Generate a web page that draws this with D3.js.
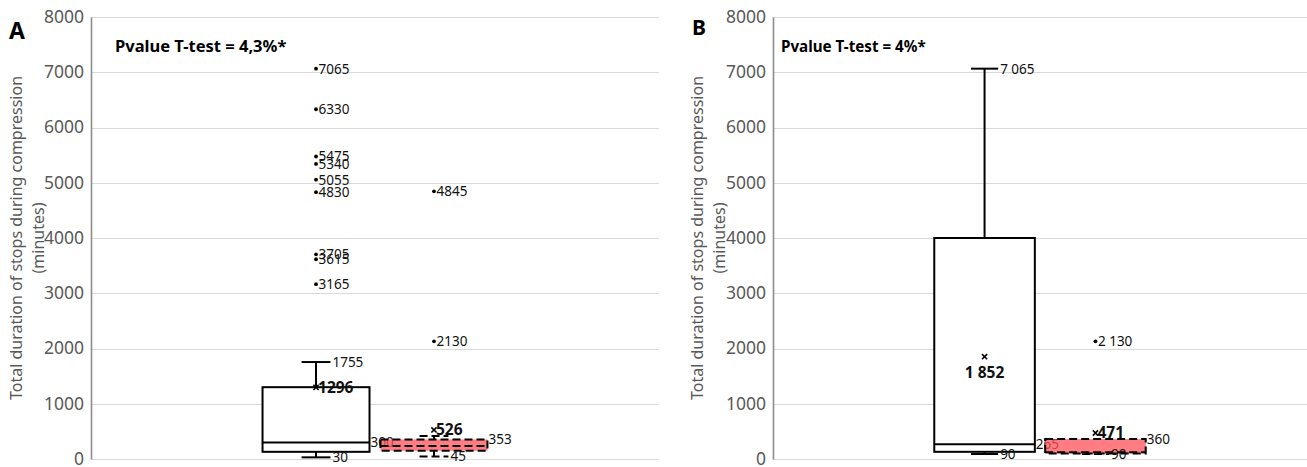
<!DOCTYPE html>
<html>
<head>
<meta charset="utf-8">
<script src="https://cdn.jsdelivr.net/npm/d3@7"></script>
<style>
  body { margin: 0; background: #fff; }
  svg { display: block; }
</style>
</head>
<body>
<svg id="chart" width="1307" height="467"></svg>
<script>
// ---- data ----
const yTicks = [0, 1000, 2000, 3000, 4000, 5000, 6000, 7000, 8000];
const groups = ["Group 1", "Group 2"];
const axisTitle = ["Total duration of stops during compression", "(minutes)"];

// Panel A: five-number summary plus mean, per group
const statsA = [
  { min: 30, q1: 130, median: 300, q3: 1300, max: 1755, mean: 1296 },
  { min: 45, q1: 150, median: 235, q3: 353, max: 416, mean: 526 }
];
const outliersA = [
  [7065, 6330, 5475, 5340, 5055, 4830, 3705, 3615, 3165],
  [4845, 2130]
];
const labelKeysA = [["max", "mean", "median", "min"], ["mean", "q3", "min"]];
const pvalueA = "Pvalue T-test = 4,3%*";

// Panel B
const statsB = [
  { min: 90, q1: 130, median: 265, q3: 4000, max: 7065, mean: 1852 },
  { min: 90, q1: 100, median: 120, q3: 360, max: 360, mean: 471 }
];
const outliersB = [[], [2130]];
const labelKeysB = [["max", "mean", "median", "min"], ["mean", "q3", "min"]];
const pvalueB = "Pvalue T-test = 4%*";

// ---- drawing ----
const svg = d3.select("#chart");
const FONT = "'Noto Sans', 'Open Sans', sans-serif";
const spaceFmt = d3.formatLocale({ decimal: ",", thousands: " ", grouping: [3], currency: ["", ""] }).format(",d");
const plainFmt = d3.format("d");

function drawPanel(p) {
  const g = svg.append("g");
  const y = d3.scaleLinear().domain([0, 8000]).range([459, 17]);
  const W = p.right - p.left;
  const x = d3.scaleBand().domain(groups)
    .range([p.left + 0.302 * W, p.right - 0.302 * W])
    .paddingInner(0.093);
  const bw = x.bandwidth();
  const capW = bw * 0.27;
  const fmt = p.fmt;
  const py = v => Math.round(y(v)) + 0.5;

  // gridlines
  g.append("g").selectAll("line").data(yTicks).join("line")
    .attr("x1", p.left).attr("x2", p.right)
    .attr("y1", d => py(d)).attr("y2", d => py(d))
    .attr("stroke", "#d9d9d9").attr("stroke-width", 1);

  // y axis
  const ag = g.append("g").attr("transform", `translate(${p.left},0)`)
    .call(d3.axisLeft(y).tickValues(yTicks).tickSize(0).tickPadding(7).tickFormat(plainFmt));
  ag.select(".domain").attr("stroke", "#8c8c8c").attr("stroke-width", 1.6);
  ag.selectAll("text").attr("fill", "#595959").attr("dy", "0.3em")
    .style("font-size", "17.5px").style("font-family", FONT);

  // axis title (two lines, rotated)
  const tg = g.append("g").attr("transform", `translate(${p.titleX},238) rotate(-90)`);
  tg.selectAll("text").data(axisTitle).join("text")
    .attr("x", 0).attr("y", (d, i) => i * 22)
    .attr("text-anchor", "middle").attr("dy", "0.35em")
    .attr("fill", "#595959").style("font-size", "16px").style("font-family", FONT)
    .text(d => d);

  // panel letter and p-value note
  g.append("text").attr("x", p.letterX).attr("y", p.letterY)
    .style("font-family", FONT).style("font-weight", "bold").style("font-size", p.letterSize)
    .attr("fill", "#000").text(p.letter);
  g.append("text").attr("x", p.pvalueX).attr("y", 52)
    .style("font-family", FONT).style("font-weight", "bold").style("font-size", p.pvalueSize)
    .attr("fill", "#000").text(p.pvalue);

  p.stats.forEach((s, i) => {
    const bx = x(groups[i]);
    const cx = bx + bw / 2;
    const dashed = i === 1;
    const bg = g.append("g");
    const stroke = (sel) => sel.attr("stroke", "#000").attr("stroke-width", 2)
      .attr("stroke-dasharray", dashed ? "8,4" : null).attr("fill", "none");

    // whiskers
    if (s.max > s.q3) {
      bg.append("line").attr("x1", cx).attr("x2", cx).attr("y1", y(s.q3)).attr("y2", y(s.max)).call(stroke);
      bg.append("line").attr("x1", cx - capW / 2).attr("x2", cx + capW / 2)
        .attr("y1", y(s.max)).attr("y2", y(s.max)).call(stroke);
    }
    bg.append("line").attr("x1", cx).attr("x2", cx).attr("y1", y(s.q1)).attr("y2", y(s.min)).call(stroke);
    bg.append("line").attr("x1", cx - capW / 2).attr("x2", cx + capW / 2)
      .attr("y1", y(s.min)).attr("y2", y(s.min)).call(stroke);

    // box
    bg.append("rect").attr("x", bx).attr("width", bw)
      .attr("y", y(s.q3)).attr("height", y(s.q1) - y(s.q3))
      .attr("fill", dashed ? "rgb(255,82,88)" : "#fff").attr("fill-opacity", dashed ? 0.75 : 1)
      .attr("stroke", "#000").attr("stroke-width", 2)
      .attr("stroke-dasharray", dashed ? "8,4" : null);
    bg.append("line").attr("x1", bx).attr("x2", bx + bw)
      .attr("y1", y(s.median)).attr("y2", y(s.median)).call(stroke);

    // mean marker (x)
    const mx = cx, my = y(s.mean), m = 2.6;
    bg.append("path")
      .attr("d", `M${mx - m},${my - m}L${mx + m},${my + m}M${mx - m},${my + m}L${mx + m},${my - m}`)
      .attr("stroke", "#000").attr("stroke-width", 1.6);

    // outliers
    bg.selectAll("circle").data(p.outliers[i]).join("circle")
      .attr("cx", cx).attr("cy", d => y(d)).attr("r", 1.9).attr("fill", "#000");
    bg.selectAll("text.out").data(p.outliers[i]).join("text").attr("class", "out")
      .attr("x", cx + 2.5).attr("y", d => y(d)).attr("dy", "0.36em")
      .style("font-family", FONT).style("font-size", "13.5px").attr("fill", "#111")
      .text(d => fmt(d));

    // value labels
    p.labelKeys[i].forEach(k => {
      const v = s[k];
      const t = bg.append("text").style("font-family", FONT).attr("fill", "#111")
        .style("font-size", "13.5px").text(fmt(v));
      if (k === "mean") {
        t.style("font-weight", "bold").style("font-size", "15.5px");
        if (p.meanBelow[i]) {
          t.attr("x", cx).attr("y", y(v) + 16).attr("dy", "0.35em").attr("text-anchor", "middle");
        } else {
          t.attr("x", cx + 2).attr("y", y(v)).attr("dy", "0.33em");
        }
      } else if (k === "min" || k === "max") {
        t.attr("x", cx + capW / 2 + 2).attr("y", y(v)).attr("dy", "0.36em");
      } else {
        t.attr("x", bx + bw + 1).attr("y", y(v)).attr("dy", "0.36em");
      }
    });
  });
}

drawPanel({
  left: 91, right: 659, titleX: 16, letter: "A", letterX: 9, letterY: 39, letterSize: "23px",
  pvalueX: 115, pvalueSize: "16.5px",
  stats: statsA, outliers: outliersA, labelKeys: labelKeysA, pvalue: pvalueA,
  meanBelow: [false, false], fmt: plainFmt
});
drawPanel({
  left: 773, right: 1307, titleX: 697, letter: "B", letterX: 692, letterY: 35, letterSize: "21px",
  pvalueX: 781, pvalueSize: "15.2px",
  stats: statsB, outliers: outliersB, labelKeys: labelKeysB, pvalue: pvalueB,
  meanBelow: [true, false], fmt: spaceFmt
});
</script>
</body>
</html>
